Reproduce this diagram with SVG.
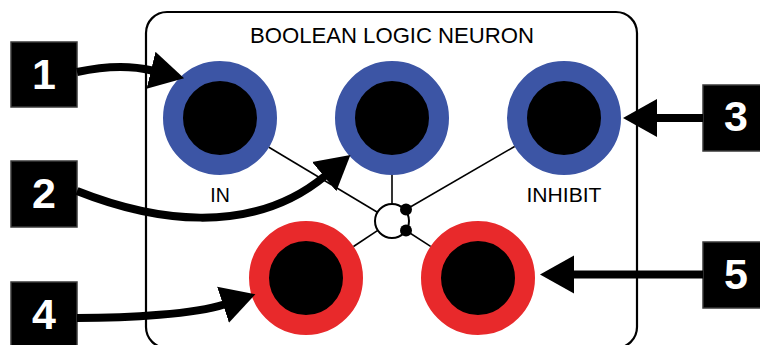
<svg xmlns="http://www.w3.org/2000/svg" width="760" height="345" viewBox="0 0 760 345">
  <style>
    .panel { fill: #ffffff; stroke: #000000; stroke-width: 2.2; }
    .title { font-family: "Liberation Sans", Arial, sans-serif; font-size: 22px; fill: #000000; }
    .label { font-family: "Liberation Sans", Arial, sans-serif; font-size: 19.5px; fill: #000000; }
    .num-box { fill: #000000; stroke: #3a3a3a; stroke-width: 1.5; }
    .num { font-family: "Liberation Sans", Arial, sans-serif; font-size: 43px; font-weight: bold; fill: #ffffff; text-anchor: middle; }
    .in-ring { fill: #000000; stroke: #3C55A5; stroke-width: 20; }
    .out-ring { fill: #000000; stroke: #E8292B; stroke-width: 20; }
    .wire { stroke: #000000; stroke-width: 1.6; fill: none; }
    .arrow { stroke: #000000; stroke-width: 8; fill: none; marker-end: url(#head); }
    .soma { fill: #ffffff; stroke: #000000; stroke-width: 2; }
  </style>
  <defs>
    <marker id="head" markerUnits="userSpaceOnUse" viewBox="0 -20 35 40" markerWidth="35" markerHeight="40" refX="1" refY="0" orient="auto">
      <path d="M0,-19 L34,0 L0,19 Z" fill="#000000"/>
    </marker>
  </defs>

  <g id="panel">
    <rect class="panel" x="146" y="12" width="491" height="336" rx="21" ry="21"/>
    <text class="title" x="392" y="43" text-anchor="middle" textLength="284" lengthAdjust="spacingAndGlyphs">BOOLEAN LOGIC NEURON</text>
  </g>

  <g id="input-in">
    <circle class="in-ring" cx="220" cy="118" r="47"/>
    <text class="label" x="220" y="202" text-anchor="middle">IN</text>
  </g>
  <g id="input-middle">
    <circle class="in-ring" cx="392" cy="118" r="47"/>
  </g>
  <g id="input-inhibit">
    <circle class="in-ring" cx="564" cy="118" r="47"/>
    <text class="label" x="564" y="202" text-anchor="middle" textLength="75" lengthAdjust="spacingAndGlyphs">INHIBIT</text>
  </g>
  <g id="output-left">
    <circle class="out-ring" cx="306" cy="278" r="47"/>
  </g>
  <g id="output-right">
    <circle class="out-ring" cx="478" cy="278" r="47"/>
  </g>
  <g id="soma">
    <circle class="soma" cx="392" cy="221" r="17"/>
    <circle cx="406" cy="209.5" r="6" fill="#000000"/>
    <circle cx="406" cy="230.5" r="6" fill="#000000"/>
  </g>

  <g id="callout-1">
    <rect class="num-box" x="11" y="42" width="66" height="65"/>
    <text class="num" x="44" y="89">1</text>
  </g>
  <g id="callout-2">
    <rect class="num-box" x="11" y="161" width="66" height="66"/>
    <text class="num" x="44" y="208">2</text>
  </g>
  <g id="callout-3">
    <rect class="num-box" x="703" y="85" width="66" height="66"/>
    <text class="num" x="736" y="131">3</text>
  </g>
  <g id="callout-4">
    <rect class="num-box" x="11" y="282" width="66" height="66"/>
    <text class="num" x="44" y="329">4</text>
  </g>
  <g id="callout-5">
    <rect class="num-box" x="703" y="242" width="66" height="66"/>
    <text class="num" x="736" y="289">5</text>
  </g>

  <g id="connectors">
    <line class="wire" x1="268.9" y1="147.3" x2="377.4" y2="212.3"/>
    <line class="wire" x1="392" y1="175" x2="392" y2="204"/>
    <line class="wire" x1="514.6" y1="146.5" x2="406" y2="209.5"/>
    <line class="wire" x1="406" y1="230.5" x2="430.6" y2="246.4"/>
    <line class="wire" x1="377.8" y1="230.4" x2="353.5" y2="246.5"/>
    <path class="arrow" d="M77,72 C100,67 125,64 152,70.5"/>
    <path class="arrow" d="M77,191 C150,220 250,238 325,176"/>
    <path class="arrow" d="M703,118 L656,118"/>
    <path class="arrow" d="M77,318 C130,318 195,314 224,304.5"/>
    <path class="arrow" d="M703,274.5 L573,274.5"/>
  </g>
</svg>
